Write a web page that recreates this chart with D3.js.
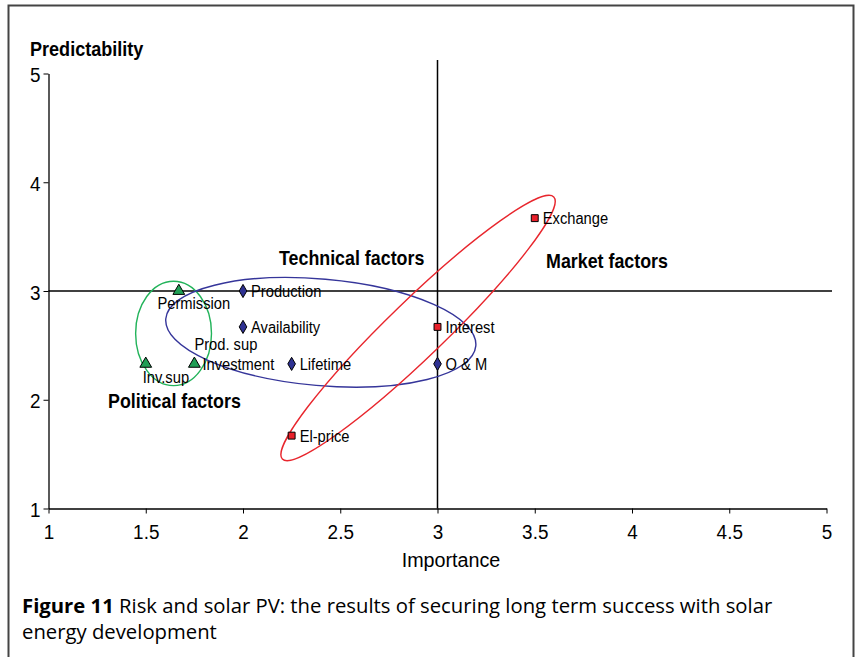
<!DOCTYPE html>
<html>
<head>
<meta charset="utf-8">
<script src="https://cdn.jsdelivr.net/npm/d3@7"></script>
<style>
  body { margin: 0; background: #fff; }
  svg { display: block; }
  .narrow { font-family: "Liberation Sans", Arimo, Arial, sans-serif; }
  .cap { font-family: "Open Sans", "Noto Sans", sans-serif; }
</style>
</head>
<body>
<svg id="svg" width="860" height="657"></svg>
<script>
// factor names, importance (x), predictability (y), group
var names = ["Permission", "Inv.sup", "Investment", "Production", "Availability", "Lifetime", "O & M", "Exchange", "Interest", "El-price"];
var importance = [1.67, 1.5, 1.75, 2, 2, 2.25, 3, 3.5, 3, 2.25];
var predictability = [3, 2.33, 2.33, 3, 2.67, 2.33, 2.33, 3.67, 2.67, 1.67];
var groups = ["pol", "pol", "pol", "tech", "tech", "tech", "tech", "mkt", "mkt", "mkt"];

var xTicks = [1, 1.5, 2, 2.5, 3, 3.5, 4, 4.5, 5];
var yTicks = [1, 2, 3, 4, 5];

// group ellipses: centre (data units), half sizes (data units), tilt in degrees
var ellCx = [1.643, 2.4, 2.9];
var ellCy = [2.61, 2.62, 2.66];
var ellRx = [0.195, 0.8, 0.97];
var ellRy = [0.48, 0.49, 0.26];
var ellRot = [0, 5, -44];
var ellCol = ["#22b35a", "#35359a", "#e8262d"];

var groupLabels = ["Political factors", "Technical factors", "Market factors"];
var groupLabelX = [1.306, 2.185, 3.558];
var groupLabelY = [1.924, 3.24, 3.21];

var svg = d3.select("#svg");

// outer frame
svg.append("path")
  .attr("d", "M 8.5,670 L 8.5,5.5 L 853.5,5.5 L 853.5,670")
  .attr("fill", "none")
  .attr("stroke", "#444")
  .attr("stroke-width", 2);

var x = d3.scaleLinear().domain([1, 5]).range([48.5, 826.5]);
var y = d3.scaleLinear().domain([1, 5]).range([508.5, 73.5]);

var g = svg.append("g").attr("class", "narrow");

// condensed-looking text: place with a transform and squeeze horizontally
function txt(px, py, k, size, bold, s) {
  return g.append("text")
    .attr("transform", "translate(" + px + "," + py + ") scale(" + k + ",1)")
    .style("font-size", size + "px")
    .style("font-weight", bold ? "bold" : "normal")
    .text(s);
}

// axes
var xAxis = g.append("g")
  .attr("transform", "translate(0," + y(1) + ")")
  .call(d3.axisBottom(x).tickValues(xTicks).tickSize(5).tickSizeOuter(0)
    .tickFormat(d3.format("")));
var yAxis = g.append("g")
  .attr("transform", "translate(" + x(1) + ",0)")
  .call(d3.axisLeft(y).tickValues(yTicks).tickSize(5).tickSizeOuter(0)
    .tickFormat(d3.format("d")));
[xAxis, yAxis].forEach(function(a) {
  a.attr("font-family", null).attr("font-size", null);
  a.select(".domain").attr("stroke", "#000").attr("stroke-width", 1.3);
  a.selectAll(".tick line").attr("stroke", "#000");
  a.selectAll(".tick text")
    .attr("fill", "#000")
    .style("font-size", "21px");
});
xAxis.selectAll(".tick text").attr("y", 0).attr("dy", null)
  .attr("transform", "translate(0,30) scale(0.9,1)");
yAxis.selectAll(".tick text").attr("x", 0).attr("dy", null)
  .attr("transform", "translate(-8,8) scale(0.9,1)");

// quadrant lines
g.append("line")
  .attr("x1", x(3)).attr("x2", x(3))
  .attr("y1", 60).attr("y2", y(1))
  .attr("stroke", "#000").attr("stroke-width", 1.5);
g.append("line")
  .attr("x1", x(1)).attr("x2", 832)
  .attr("y1", y(3)).attr("y2", y(3))
  .attr("stroke", "#000").attr("stroke-width", 1.3);

// axis titles
txt(30, 56, 0.86, 21, true, "Predictability");
txt(451, 567, 0.94, 21, false, "Importance").attr("text-anchor", "middle");

// ellipses
var pxPerX = x(2) - x(1), pxPerY = y(1) - y(2);
ellCx.forEach(function(cx, i) {
  g.append("ellipse")
    .attr("cx", 0).attr("cy", 0)
    .attr("rx", ellRx[i] * pxPerX)
    .attr("ry", ellRy[i] * pxPerY)
    .attr("transform", "translate(" + x(cx) + "," + y(ellCy[i]) + ") rotate(" + ellRot[i] + ")")
    .attr("fill", "none")
    .attr("stroke", ellCol[i])
    .attr("stroke-width", 1.4);
});

// markers
var sym = { pol: d3.symbolTriangle, tech: d3.symbolDiamond, mkt: d3.symbolSquare };
var symSize = { pol: 60, tech: 50, mkt: 48 };
var fill = { pol: "#1f9e55", tech: "#2e3192", mkt: "#e8202a" };

var pts = names.map(function(n, i) {
  return { name: n, x: importance[i], y: predictability[i], grp: groups[i] };
});

g.selectAll("path.pt")
  .data(pts)
  .enter().append("path")
  .attr("class", "pt")
  .attr("transform", function(d) { return "translate(" + x(d.x) + "," + y(d.y) + ")"; })
  .attr("d", function(d) { return d3.symbol().type(sym[d.grp]).size(symSize[d.grp])(); })
  .attr("fill", function(d) { return fill[d.grp]; })
  .attr("stroke", "#000")
  .attr("stroke-width", 1);

// point labels (offsets in px)
var off = {
  "Permission": [15, 18, "middle"],
  "Inv.sup": [-3, 19, "start"],
  "Investment": [8, 6, "start"]
};
pts.forEach(function(d) {
  var o = off[d.name] || [8, 6, "start"];
  txt(x(d.x) + o[0], y(d.y) + o[1], 0.92, 16, false, d.name)
    .attr("text-anchor", o[2]);
});

// second label sharing the Investment point
txt(x(1.75), y(2.33) - 14, 0.92, 16, false, "Prod. sup");

// group labels
groupLabels.forEach(function(t, i) {
  txt(x(groupLabelX[i]), y(groupLabelY[i]), 0.85, 21, true, t);
});

// caption
var cap = svg.append("text").attr("class", "cap").style("font-size", "20.3px");
cap.append("tspan").attr("x", 22).attr("y", 613)
  .style("font-weight", "bold").text("Figure 11");
cap.append("tspan")
  .text(" Risk and solar PV: the results of securing long term success with solar");
svg.append("text").attr("class", "cap")
  .attr("x", 22).attr("y", 639)
  .style("font-size", "20.3px")
  .text("energy development");
</script>
</body>
</html>
